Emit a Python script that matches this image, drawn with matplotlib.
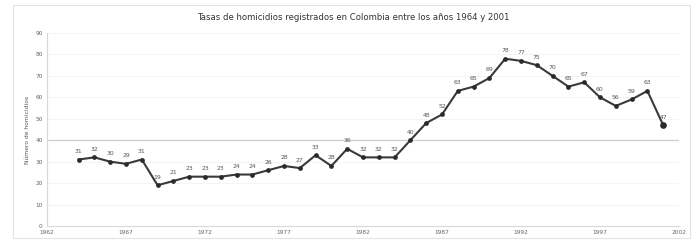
import matplotlib
matplotlib.use("Agg")
import matplotlib.pyplot as plt
from matplotlib.patches import Rectangle

years = list(range(1964, 2002))
rates = [31, 32, 30, 29, 31, 19, 21, 23, 23, 23, 24, 24, 26, 28, 27, 33, 28, 36,
         32, 32, 32, 40, 48, 52, 63, 65, 69, 78, 77, 75, 70, 65, 67, 60, 56, 59, 63, 47]
yticks = [0, 10, 20, 30, 40, 50, 60, 70, 80, 90]
xticks = [1962, 1967, 1972, 1977, 1982, 1987, 1992, 1997, 2002]

title = "Tasas de homicidios registrados en Colombia entre los años 1964 y 2001"
ylabel = "Número de homicidios"

fig = plt.figure(figsize=(7.0, 2.43), dpi=100)
fig.patch.set_facecolor("white")
fig.add_artist(Rectangle((13/700, 5/243), (690-13)/700, (238-5)/243,
                         transform=fig.transFigure, fill=False,
                         edgecolor="#e4e4e4", linewidth=0.8))

ax = fig.add_axes([47/700, 1-226/243, (679-47)/700, (226-33)/243])
ax.set_xlim(1962, 2002)
ax.set_ylim(0, 90)

for t in yticks:
    if t == 40:
        ax.axhline(t, color="#cfcfcf", lw=0.9, zorder=1)
    elif t > 0:
        ax.axhline(t, color="#f3f3f3", lw=0.6, zorder=1)

ax.plot(years, rates, color="#3a3a3a", lw=1.5, marker="o", markersize=2.4,
        markerfacecolor="#2a2a2a", markeredgecolor="#2a2a2a", zorder=3)
ax.plot(years[-1], rates[-1], marker="o", markersize=3.8, color="#2a2a2a", zorder=4)

for x, y in zip(years, rates):
    ax.annotate(str(y), (x, y), xytext=(0, 4), textcoords="offset points",
                ha="center", va="bottom", fontsize=4.4, color="#555555")

ax.set_xticks(xticks)
ax.set_xticklabels([str(v) for v in xticks], fontsize=4.2, color="#666666")
ax.set_yticks(yticks)
ax.set_yticklabels([str(v) for v in yticks], fontsize=4.2, color="#666666")
ax.tick_params(length=0, pad=3)
for lbl in ax.get_xticklabels():
    lbl.set_clip_on(False)

for s in ["top", "right"]:
    ax.spines[s].set_visible(False)
ax.spines["left"].set_color("#d8d8d8")
ax.spines["bottom"].set_color("#d8d8d8")
ax.spines["left"].set_linewidth(0.8)
ax.spines["bottom"].set_linewidth(0.8)

ax.set_ylabel(ylabel, fontsize=4.3, color="#555555", labelpad=4)
fig.text(353/700, 1-18/243, title, ha="center", va="center", fontsize=6.1, color="#333333")

fig.savefig("out.png", dpi=100, facecolor="white")
